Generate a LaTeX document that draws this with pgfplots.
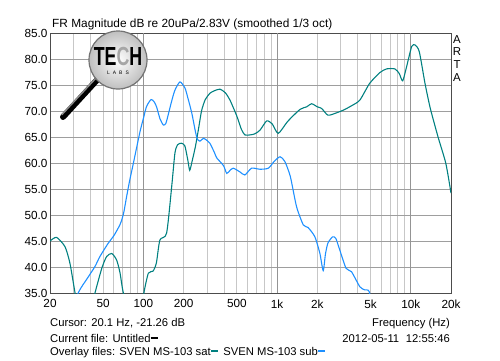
\documentclass[border=0pt]{standalone}
\usepackage{pgfplots}
\pgfplotsset{compat=1.18}
\usepackage{fontspec}
\setmainfont{Liberation Sans}
\definecolor{satc}{RGB}{0,128,128}
\definecolor{subc}{RGB}{30,144,255}
\begin{document}
\begin{tikzpicture}[x=1bp,y=1bp]
\path[use as bounding box] (0,0) rectangle (500,360);
\begin{axis}[
  at={(50bp,67bp)}, anchor=south west,
  scale only axis, width=401bp, height=260bp,
  xmode=log, xmin=20, xmax=20000, ymin=35, ymax=85,
  xtick={20,50,100,200,500,1000,2000,5000,10000,20000},
  xticklabels={20,50,100,200,500,1k,2k,5k,10k,20k},
  minor xtick={20,30,40,50,60,70,80,90,200,300,400,500,600,700,800,900,2000,3000,4000,5000,6000,7000,8000,9000,20000},
  ytick={35,40,...,85},
  xmajorgrids=false, xminorgrids=true, ymajorgrids=true,
  minor grid style={black!22, line width=0.8pt},
  major grid style={black!38, line width=0.8pt},
  extra x ticks={100,1000,10000}, extra x tick labels={},
  extra x tick style={grid=major, major grid style={black!42, line width=0.8pt}},
  major tick length=0pt, minor tick length=0pt,
  axis line style={black!70, line width=0.8pt},
  tick label style={font=\fontsize{11.8}{12}\selectfont, text=black},
  yticklabel style={xshift=1bp, /pgf/number format/fixed, /pgf/number format/fixed zerofill, /pgf/number format/precision=1, /pgf/number format/assume math mode=true},
  xticklabel style={yshift=-3bp},
  log basis x=10,
]
\addplot[color=satc, line width=1.1pt, smooth, tension=0.4] coordinates {
(20,45.0) (22.4,45.7) (25.9,43.9) (28.2,40.7) (30.8,35) (34,29)
(40,31) (43.4,35) (48.8,39.75) (53,42.0) (57.9,42.6) (63,41.35) (66.9,38.8) (70.8,35) (85,28)
(97,31) (100.8,35) (108.8,38.8) (118,39.2) (125,40.8) (132.8,45.2) (149,46.5) (162.6,55.4) (172,61.9) (180,63.5) (192,63.8) (204,63.3) (215,60.5) (222,58.6) (232,60.5) (245,63.2) (258,66.5) (272,70.0) (289,72.1) (314,73.4) (340,73.9) (374,74.2) (410,73.5) (444,72.1) (500,69) (540,66.5) (574,65.4) (626,65.4) (680,65.6) (744,66.3) (836,68.1) (920,67.5) (1020,65.7) (1200,68) (1482,70.3) (1664,70.8) (1812,71.4) (2000,70.8) (2152,70.5) (2400,69.2) (2750,69.6) (3150,70.2) (3600,71) (4160,72.1) (4920,75.3) (5880,77.4) (6600,78.1) (7600,78.1) (8200,77.2) (8700,75.8) (9300,78.5) (10160,82.4) (10770,82.7) (11580,81.4) (12780,75.3) (14000,70.5) (16000,65.0) (18300,59.9) (20000,54.2)
};
\addplot[color=subc, line width=1.1pt, smooth, tension=0.4] coordinates {
(27,29) (32.5,35) (38,37.8) (43.4,40.1) (47.2,42) (54.6,44.6) (60,46) (66.9,48.2) (71,50.3) (74.8,53.5) (79,56.7) (84,59.9) (94.2,66.0) (100,68.6) (105.6,70.9) (114,72.2) (120,71.8) (125.4,70.8) (133,68.5) (141,67.3) (147,67.6) (153,69.2) (163,72) (172,74.0) (187.6,75.6) (204.6,74.4) (215,72.5) (230,69.6) (245,66) (253,64.6) (265,64.2) (281,64.75) (300,64.3) (314,63.8) (340,62.0) (353,61.0) (397,59.5) (420,58.0) (445,58.6) (470,59.0) (526,58.3) (574,57.7) (644,59.0) (744,58.8) (860,59.0) (950,60.3) (1052,61.2) (1142,60.3) (1256,57.4) (1398,51.6) (1570,48.1) (1704,47.6) (1918,45.8) (2090,42.6) (2212,39.3) (2300,42.5) (2400,44.6) (2600,45.8) (2750,45.5) (2940,43.3) (3280,39.75) (3600,39.1) (4160,36.2) (4520,35.6) (4900,35.2) (5300,30)
};
\end{axis}
% title and side label
\node[anchor=base west, font=\fontsize{11.9}{12}\selectfont, inner sep=0] at (52,333) {FR Magnitude dB re 20uPa/2.83V (smoothed 1/3 oct)};
\node[anchor=north, font=\fontsize{11.5}{12.9}\selectfont, align=center, inner sep=0] at (457,325) {A\\R\\T\\A};
% bottom info text
\node[anchor=base west, font=\fontsize{11.3}{12}\selectfont, inner sep=0] at (50,34) {Cursor: 20.1 Hz, -21.26 dB};
\node[anchor=base east, font=\fontsize{11.3}{12}\selectfont, inner sep=0] at (450,34) {Frequency (Hz)};
\node[anchor=base west, font=\fontsize{11.3}{12}\selectfont, inner sep=0] at (50,18) {Current file: Untitled\rule[0.3em]{7bp}{1.4bp}};
\node[anchor=base east, font=\fontsize{11.3}{12}\selectfont, inner sep=0] at (450,18) {2012-05-11\hspace{0.6em}12:55:46};
\node[anchor=base west, font=\fontsize{11.3}{12}\selectfont, inner sep=0] at (50,5) {Overlay files: SVEN MS-103 sat\textcolor{satc}{\rule[0.3em]{7bp}{1.4bp}}\hspace{0.5em}SVEN MS-103 sub\textcolor{subc}{\rule[0.3em]{7bp}{1.4bp}}};
% logo (magnifying glass)
\draw[line width=6bp, black, line cap=round] (97,280) -- (63,243);
\draw[line width=1.5bp, black!45, line cap=round] (96,282) -- (62,245.5);
\shade[inner color=white, outer color=black!25, draw=black!55, line width=1.2bp] (118,300) circle (29);
\node[font=\fontsize{21}{22}\selectfont\bfseries, inner sep=0, yscale=1.25, xscale=0.85] at (118,304) {TE\textcolor{black!35}{C}H};
\node[font=\fontsize{5}{6}\selectfont, inner sep=0] at (118,287) {L\hspace{3bp}A\hspace{3bp}B\hspace{3bp}S};
\end{tikzpicture}
\end{document}
